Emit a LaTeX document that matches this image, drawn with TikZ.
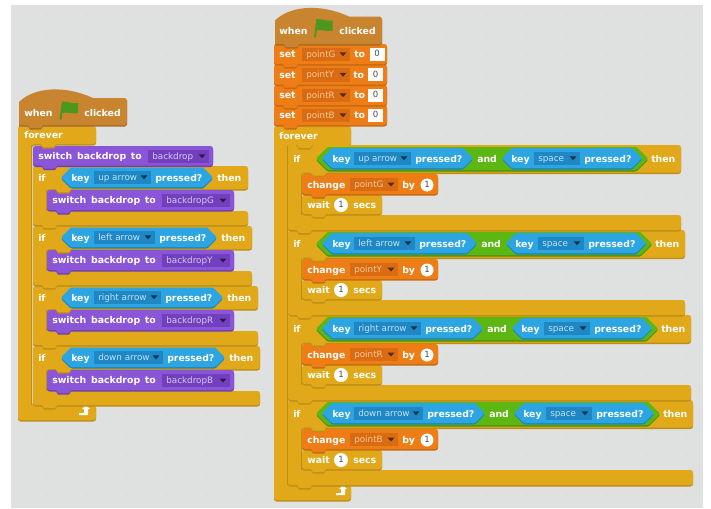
\documentclass[tikz,border=0pt]{standalone}
\usepackage{fontspec}
\setmainfont{DejaVu Sans}
\definecolor{canvas}{HTML}{DFE0E0}
\definecolor{speck}{HTML}{D3D5D5}
\definecolor{hat}{HTML}{C8842F}
\definecolor{hatd}{HTML}{A56C28}
\definecolor{gold}{HTML}{E1A91A}
\definecolor{goldd}{HTML}{BD8E18}
\definecolor{purp}{HTML}{8A55D7}
\definecolor{purpd}{HTML}{6E42B0}
\definecolor{orng}{HTML}{EE7D16}
\definecolor{orngd}{HTML}{C56A12}
\definecolor{blu}{HTML}{2CA5E2}
\definecolor{blud}{HTML}{2085B8}
\definecolor{grn}{HTML}{5CB712}
\definecolor{grnd}{HTML}{4A9510}
\definecolor{flag}{HTML}{4C971E}
\definecolor{ddp}{HTML}{7240BE}
\definecolor{ddo}{HTML}{D96C12}
\definecolor{ddb}{HTML}{1F88C4}
\definecolor{tp}{HTML}{D8C8F0}
\definecolor{to}{HTML}{F6C89C}
\definecolor{tb}{HTML}{BFE2F5}
\newcounter{tn}
\tikzset{
  x=0.75pt,y=-0.75pt,
  lab/.style={text=white,font=\bfseries\fontsize{7}{8}\selectfont,anchor=base west,inner sep=0pt},
  ddlab/.style={font=\fontsize{6.6}{8}\selectfont,anchor=base west,inner sep=0pt},
  numlab/.style={text=black!70,font=\fontsize{6.4}{8}\selectfont,anchor=base,inner sep=0pt},
  rc/.style={rounded corners=1.9pt}
}
\newcommand{\Tx}[3]{\stepcounter{tn}\node[lab] (t\number\value{tn}) at ({#1},{#2+3.6}) {\spaceskip=3.6pt\relax #3};}
\newcommand{\Bump}[3]{%
  \fill[#3d] ({#1+8},{#2}) -- ({#1+11},{#2+4.5}) -- ({#1+22},{#2+4.5}) -- ({#1+25},{#2}) -- cycle;
  \fill[#3] ({#1+8},{#2-1}) -- ({#1+11},{#2+3}) -- ({#1+22},{#2+3}) -- ({#1+25},{#2-1}) -- cycle;}
\newcommand{\Block}[5]{%
  \fill[#5d,rc] ({#1},{#2+1.5}) rectangle ({#3},{#4+1.5});
  \fill[#5,rc] ({#1},{#2}) rectangle ({#3},{#4});
  \Bump{#1}{#4}{#5}}
% x0 y0 x1 yh xarm yb x2 ye
\newcommand{\CPath}[8]{({#1},{#2}) -- ({#3},{#2}) -- ({#3},{#4}) -- ({#5},{#4}) -- ({#5},{#6}) -- ({#7},{#6}) -- ({#7},{#8}) -- ({#1},{#8}) -- cycle}
\newcommand{\CShape}[8]{%
  \fill[goldd,rc,shift={(0,1.5)}] \CPath{#1}{#2}{#3}{#4}{#5}{#6}{#7}{#8};
  \fill[gold,rc] \CPath{#1}{#2}{#3}{#4}{#5}{#6}{#7}{#8};
  \fill[goldd] ({#5-1.2},{#4+1}) rectangle ({#5},{#6});}
\newcommand{\Hex}[5]{%
  \fill[#5d,rounded corners=0.8pt] ({#1},{((#3)+(#4))/2+1.5}) -- ({#1+((#4)-(#3))/2},{#3+1.5}) -- ({#2-((#4)-(#3))/2},{#3+1.5}) -- ({#2},{((#3)+(#4))/2+1.5}) -- ({#2-((#4)-(#3))/2},{#4+1.5}) -- ({#1+((#4)-(#3))/2},{#4+1.5}) -- cycle;
  \fill[#5,rounded corners=0.8pt] ({#1},{((#3)+(#4))/2}) -- ({#1+((#4)-(#3))/2},{#3}) -- ({#2-((#4)-(#3))/2},{#3}) -- ({#2},{((#3)+(#4))/2}) -- ({#2-((#4)-(#3))/2},{#4}) -- ({#1+((#4)-(#3))/2},{#4}) -- cycle;}
% x0 x1 y0 y1 fill textcolor text
\newcommand{\DD}[7]{%
  \fill[#5] ({#1},{#3}) rectangle ({#2},{#4});
  \stepcounter{tn}\node[ddlab,text=#6] (t\number\value{tn}) at ({#1+4},{((#3)+(#4))/2+3.2}) {#7};
  \fill[black!60!#5] ({#2-10.5},{((#3)+(#4))/2-2}) -- ({#2-3.5},{((#3)+(#4))/2-2}) -- ({#2-7},{((#3)+(#4))/2+2}) -- cycle;}
\newcommand{\Flag}[2]{%
  \fill[flag] ({#1},{#2}) -- ({#1+2.5},{#2-18}) -- ({#1+4.5},{#2-18}) -- ({#1+2},{#2}) -- cycle;
  \fill[flag] ({#1+3},{#2-17.5}) .. controls ({#1+8},{#2-19}) and ({#1+12},{#2-15}) .. ({#1+18.5},{#2-16.5}) -- ({#1+18.5},{#2-6.5}) .. controls ({#1+13},{#2-5}) and ({#1+8},{#2-8}) .. ({#1+1.5},{#2-6.5}) -- cycle;}
% x0 x1 yr y1
\newcommand{\HatBlock}[4]{%
  \fill[hatd] ({#1},{#4+1.5}) -- ({#1},{#3+4}) .. controls ({#1+15},{#3-11}) and ({#1+46},{#3-13}) .. ({#1+74},{#3}) -- ({#2-2},{#3}) -- ({#2},{#3+2}) -- ({#2},{#4-0.5}) -- ({#2-2},{#4+1.5}) -- cycle;
  \fill[hat] ({#1},{#4}) -- ({#1},{#3+3}) .. controls ({#1+15},{#3-12}) and ({#1+46},{#3-14}) .. ({#1+74},{#3-1}) -- ({#2-2},{#3-1}) -- ({#2},{#3+1}) -- ({#2},{#4-2}) -- ({#2-2},{#4}) -- cycle;
  \Bump{#1}{#4}{hat}}
% top d arrow var : left-hand if
\newcommand{\LIf}[4]{%
  \CShape{33}{#1}{248+#2}{#1+23}{47}{#1+45}{248+#2}{#1+59}
  \Bump{33}{#1+59}{gold}
  \Hex{61}{213+#2}{#1+1.5}{#1+21}{blu}
  \Tx{38}{#1+12}{if}
  \Tx{71}{#1+12}{key}
  \DD{94}{151+#2}{#1+4.5}{#1+18}{ddb}{tb}{#3}
  \Tx{155+#2}{#1+12}{pressed?}
  \Tx{217+#2}{#1+12}{then}
  \Block{47}{#1+24}{234}{#1+44}{purp}
  \Tx{52}{#1+34}{switch backdrop to}
  \DD{162}{230}{#1+28}{#1+41}{ddp}{tp}{#4}
  \Bump{47}{#1+23}{gold}}
% top d arrow var : right-hand if
\newcommand{\RIf}[4]{%
  \CShape{288}{#1}{681+#2}{#1+27.5}{302}{#1+70}{681+#2}{#1+85}
  \Bump{288}{#1+85}{gold}
  \Hex{316}{648+#2}{#1+2}{#1+25}{grn}
  \Hex{322}{473+#2}{#1+3}{#1+23}{blu}
  \Hex{502+#2}{642+#2}{#1+3}{#1+23}{blu}
  \Tx{293}{#1+14}{if}
  \Tx{332}{#1+13.5}{key}
  \DD{354}{411+#2}{#1+6.5}{#1+20}{ddb}{tb}{#3}
  \Tx{415+#2}{#1+13.5}{pressed?}
  \Tx{477+#2}{#1+14}{and}
  \Tx{511+#2}{#1+13.5}{key}
  \DD{534+#2}{580+#2}{#1+6.5}{#1+20}{ddb}{tb}{space}
  \Tx{584+#2}{#1+13.5}{pressed?}
  \Tx{651+#2}{#1+14}{then}
  \Block{302}{#1+50}{382}{#1+69}{gold}
  \Tx{307}{#1+60}{wait}
  \fill[white] (341,{#1+60}) circle[radius=7];
  \stepcounter{tn}\node[numlab] (t\number\value{tn}) at (341,{#1+62.6}) {1};
  \Tx{353}{#1+60}{secs}
  \Block{302}{#1+29}{438}{#1+49}{orng}
  \Tx{307}{#1+40}{change}
  \DD{350}{398}{#1+33}{#1+46}{ddo}{to}{#4}
  \Tx{402}{#1+40}{by}
  \fill[white] (427,{#1+40}) circle[radius=6.5];
  \stepcounter{tn}\node[numlab] (t\number\value{tn}) at (427,{#1+42.6}) {1};
  \Bump{302}{#1+27.5}{gold}}
% y var to-x box-x
\newcommand{\SetRow}[4]{%
  \Block{274}{#1}{387}{#1+20}{orng}
  \Tx{279}{#1+10}{set}
  \DD{302}{350}{#1+3.5}{#1+17}{ddo}{to}{#2}
  \Tx{#3}{#1+10}{to}
  \fill[white] (#4,{#1+3.5}) rectangle ({#4+15},{#1+16.5});
  \stepcounter{tn}\node[numlab] (t\number\value{tn}) at ({#4+7.5},{#1+12.7}) {0};}
\newcommand{\LoopArrow}[2]{%
  \fill[white] ({#1-7},{#2+1}) -- ({#1-2},{#2+1}) -- ({#1-2},{#2-3}) -- ({#1-4},{#2-3}) -- ({#1},{#2-7}) -- ({#1+4},{#2-3}) -- ({#1+2},{#2-3}) -- ({#1+2},{#2+3}) -- ({#1-7},{#2+3}) -- cycle;}
\begin{document}
\begin{tikzpicture}
\useasboundingbox (0,0) rectangle (711,508);
\fill[white] (0,0) rectangle (711,508);
\fill[canvas] (11,5) rectangle (703,508);
\foreach \px in {27,47,...,697}{\foreach \py in {15,35,...,505}{\fill[speck] (\px,\py) circle[radius=0.7];}}
% left stack
\CShape{18}{126}{96}{144}{32}{405}{96}{420}
\LoopArrow{86}{412}
\LIf{346}{12}{down arrow}{backdropB}
\LIf{286}{10}{right arrow}{backdropR}
\LIf{226}{4}{left arrow}{backdropY}
\LIf{166}{0}{up arrow}{backdropG}
\Block{33}{146}{213}{165.5}{purp}
\Tx{38}{156}{switch backdrop to}
\DD{148}{209}{149.5}{163}{ddp}{tp}{backdrop}
\Bump{32}{144}{gold}
\Tx{24}{135}{forever}
\HatBlock{19}{127}{99}{125}
\Tx{24}{113}{when}
\Flag{59.5}{119.5}
\Tx{84}{113}{clicked}
% right stack
\CShape{274}{126}{351}{145}{288}{485}{351}{500}
\LoopArrow{343}{492}
\RIf{400}{12}{down arrow}{pointB}
\RIf{315}{10}{right arrow}{pointR}
\RIf{230}{4}{left arrow}{pointY}
\RIf{145}{0}{up arrow}{pointG}
\Bump{288}{145}{gold}
\Tx{279}{135.5}{forever}
\SetRow{105}{pointB}{354}{368}
\SetRow{85}{pointR}{354}{368}
\SetRow{64.5}{pointY}{353}{368}
\SetRow{44}{pointG}{354}{369.5}
\HatBlock{275}{382}{17.5}{44}
\Tx{279}{30.5}{when}
\Flag{314}{37}
\Tx{339}{30.5}{clicked}
\end{tikzpicture}
\end{document}
